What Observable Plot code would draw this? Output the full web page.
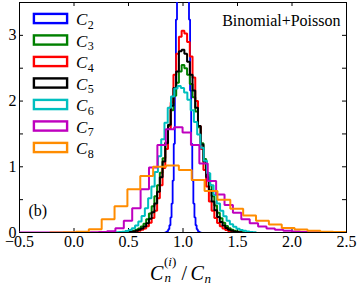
<!DOCTYPE html>
<html>
<head>
<meta charset="utf-8">
<script src="https://cdn.jsdelivr.net/npm/d3@7"></script>
<script src="https://cdn.jsdelivr.net/npm/@observablehq/plot@0.6"></script>
<style>
  html, body { margin: 0; padding: 0; background: #fff; }
  #wrap { position: relative; width: 361px; height: 284px; overflow: hidden;
          font-family: 'Liberation Serif', 'Times New Roman', Times, 'DejaVu Serif', serif; }
  #wrap svg { display: block; }
  #wrap svg, #wrap svg text { font-family: 'Liberation Serif', 'Times New Roman', Times, 'DejaVu Serif', serif !important; }
  #legend { position: absolute; left: 0; top: 0; pointer-events: none; }
</style>
</head>
<body>
<div id="wrap"><div id="chart"></div></div>
<script>
// ---------------- data ----------------
const seriesNames  = ["2", "3", "4", "5", "6", "7", "8"];          // subscripts of C_n
const seriesColors = ["#0000ff", "#008000", "#ff0000", "#000000", "#00bfbf", "#bf00bf", "#ff8c00"];

// C2 (blue): first bin edge, bin width, densities
const c2Start = 0.835, c2Width = 0.01;
const c2Values = [0.003, 0.009, 0.022, 0.05, 0.11, 0.23, 0.44, 0.79, 1.35, 2.16, 3.24, 4.57, 6.05, 7.53, 8.8, 9.66, 9.97,
                  9.66, 8.8, 7.53, 6.05, 4.57, 3.24, 2.16, 1.35, 0.79, 0.44, 0.23, 0.11, 0.05, 0.022, 0.009, 0.003];

// C3 (green)
const c3Start = 0.4625, c3Width = 0.025;
const c3Values = [0.006, 0.010, 0.016, 0.025, 0.040, 0.060, 0.090, 0.135, 0.20, 0.29, 0.40, 0.55, 0.72, 0.91, 1.13, 1.37,
                  1.62, 1.86, 2.08, 2.28, 2.45, 2.55, 2.50, 2.40, 2.26, 2.06, 1.84, 1.60, 1.36, 1.12, 0.91, 0.72, 0.55,
                  0.41, 0.30, 0.215, 0.15, 0.10, 0.066, 0.043, 0.027, 0.017, 0.010, 0.006];

// C4 (red)
const c4Start = 0.4875, c4Width = 0.025;
const c4Values = [0.004, 0.006, 0.010, 0.016, 0.026, 0.040, 0.062, 0.095, 0.15, 0.22, 0.33, 0.52, 0.72, 0.98, 1.27, 1.58,
                  1.98, 2.40, 2.72, 2.98, 3.07, 3.03, 2.90, 2.68, 2.36, 2.00, 1.62, 1.27, 0.95, 0.70, 0.47, 0.33, 0.22,
                  0.145, 0.095, 0.06, 0.038, 0.024, 0.015, 0.009, 0.005, 0.003];

// C5 (black)
const c5Start = 0.4875, c5Width = 0.025;
const c5Values = [0.006, 0.010, 0.016, 0.025, 0.040, 0.060, 0.090, 0.14, 0.21, 0.31, 0.44, 0.62, 0.84, 1.08, 1.36, 1.64,
                  1.93, 2.20, 2.45, 2.76, 2.78, 2.72, 2.60, 2.40, 2.16, 1.90, 1.62, 1.34, 1.08, 0.84, 0.64, 0.47, 0.34,
                  0.235, 0.16, 0.105, 0.068, 0.043, 0.027, 0.016, 0.009, 0.005];

// C6 (cyan)
const c6Start = 0.38, c6Width = 0.03;
const c6Values = [0.003, 0.006, 0.012, 0.022, 0.039, 0.065, 0.106, 0.166, 0.25, 0.37, 0.52, 0.70, 0.92, 1.16, 1.42, 1.67,
                  1.90, 2.07, 2.19, 2.23, 2.20, 2.13, 2.02, 1.86, 1.68, 1.49, 1.29, 1.09, 0.90, 0.72, 0.57, 0.44, 0.33,
                  0.246, 0.177, 0.125, 0.086, 0.058, 0.038, 0.025, 0.015, 0.009, 0.005];

// C7 (magenta)
const c7Start = -0.544, c7Width = 0.077;
const c7Values = [0, 0, 0, 0, 0, 0, 0, 0, 0, 0.002, 0.008, 0.02, 0.065, 0.18, 0.37, 0.66, 0.99, 1.33, 1.57, 1.60, 1.52,
                  1.33, 1.05, 0.785, 0.58, 0.42, 0.30, 0.20, 0.14, 0.09, 0.06, 0.04, 0.025, 0.015, 0.009, 0.005, 0.003,
                  0.002, 0.001, 0.001];

// C8 (orange)
const c8Start = -0.218, c8Width = 0.118;
const c8Values = [0, 0.002, 0.012, 0.05, 0.20, 0.40, 0.66, 0.86, 1.00, 1.02, 0.95, 0.80, 0.63, 0.50, 0.36, 0.26, 0.18,
                  0.12, 0.07, 0.045, 0.025, 0.012, 0.006, 0.003];

// axes
const xTicks = [-0.5, 0.0, 0.5, 1.0, 1.5, 2.0, 2.5];
const yTicks = [0, 1, 2, 3];
const yMinorTicks = [0.5, 1, 1.5, 2, 2.5, 3];
const annotation = "Binomial+Poisson";
const panelTag = "(b)";

// ---------------- build ----------------
const starts = [c2Start, c3Start, c4Start, c5Start, c6Start, c7Start, c8Start];
const widths = [c2Width, c3Width, c4Width, c5Width, c6Width, c7Width, c8Width];
const valueLists = [c2Values, c3Values, c4Values, c5Values, c6Values, c7Values, c8Values];

function stepOutline(start, width, values) {
  const pts = [{x: start, y: 0}];
  values.forEach((v, i) => {
    pts.push({x: start + i * width, y: v});
    pts.push({x: start + (i + 1) * width, y: v});
  });
  pts.push({x: start + values.length * width, y: 0});
  return pts;
}

const W = 361, H = 252, mL = 19, mR = 15, mT = 2, mB = 20;
const pw = W - mL - mR, ph = H - mT - mB, tk = 4;
const FONT = "'Liberation Serif', 'Times New Roman', Times, 'DejaVu Serif', serif";

const lineMarks = valueLists.map((vals, i) =>
  Plot.line(stepOutline(starts[i], widths[i], vals), {
    x: "x", y: "y", stroke: seriesColors[i], strokeWidth: i === 0 ? 1.8 : 2,
    strokeLinejoin: "miter", clip: "frame"
  })
);

const chart = Plot.plot({
  width: W, height: H,
  marginLeft: mL, marginRight: mR, marginTop: mT, marginBottom: mB,
  style: {fontFamily: FONT, fontSize: "16px", background: "white", color: "black", overflow: "visible"},
  x: {domain: [-0.5, 2.5]},
  y: {domain: [0, 3.5]},
  marks: [
    Plot.frame({stroke: "black", strokeWidth: 1}),
    Plot.ruleX(xTicks, {insetTop: ph - tk, stroke: "black"}),
    Plot.ruleX(xTicks, {insetBottom: ph - tk, stroke: "black"}),
    Plot.ruleY(yMinorTicks, {insetRight: pw - tk, stroke: "black"}),
    Plot.ruleY(yMinorTicks, {insetLeft: pw - tk, stroke: "black"}),
    ...lineMarks,
    Plot.axisX({ticks: xTicks, tickSize: 0, tickPadding: 3, tickFormat: d3.format(".1f"), label: null, fontSize: 16}),
    Plot.axisY({ticks: yTicks, tickSize: 0, tickPadding: 3, tickFormat: d3.format("d"), label: null, fontSize: 16}),
    Plot.text([annotation], {frameAnchor: "top-right", textAnchor: "end", lineAnchor: "top", dx: -6, dy: 12.5, fontSize: 16}),
    Plot.text([panelTag], {frameAnchor: "bottom-left", textAnchor: "start", lineAnchor: "bottom", dx: 9, dy: -17, fontSize: 16})
  ]
});
document.getElementById("chart").appendChild(chart);

// ---------------- legend (overlay, upper left) ----------------
const wrap = d3.select("#wrap");
const leg = wrap.append("svg").attr("id", "legend").attr("width", W).attr("height", H)
  .attr("font-family", FONT);
seriesNames.forEach((name, i) => {
  const cy = 18.5 + i * 21.5;
  leg.append("rect").attr("x", 33.9).attr("y", cy - 4.6).attr("width", 33.2).attr("height", 9.2)
    .attr("fill", "none").attr("stroke", seriesColors[i]).attr("stroke-width", 2.4);
  const t = leg.append("text").attr("x", 76).attr("y", cy + 6.5).attr("font-size", 17).attr("fill", "black");
  t.append("tspan").attr("font-style", "italic").text("C");
  t.append("tspan").attr("font-size", 12).attr("dy", 3.5).attr("dx", 0.5).text(name);
});

// ---------------- x-axis label (below the plot) ----------------
const cap = wrap.append("svg").attr("width", W).attr("height", 284 - H).attr("font-family", FONT);
const lab = cap.append("text").attr("font-size", 20).attr("fill", "black");
lab.append("tspan").attr("x", 150).attr("y", 28).attr("font-style", "italic").text("C");
const sup = lab.append("tspan").attr("x", 164).attr("y", 13.5).attr("font-size", 13);
sup.append("tspan").text("(");
sup.append("tspan").attr("font-style", "italic").text("i");
sup.append("tspan").text(")");
lab.append("tspan").attr("x", 164.5).attr("y", 30).attr("font-size", 13).attr("font-style", "italic").text("n");
lab.append("tspan").attr("x", 181.5).attr("y", 28).text("/");
lab.append("tspan").attr("x", 190.5).attr("y", 28).attr("font-style", "italic").text("C");
lab.append("tspan").attr("x", 204.5).attr("y", 30.5).attr("font-size", 13).attr("font-style", "italic").text("n");
</script>
</body>
</html>
